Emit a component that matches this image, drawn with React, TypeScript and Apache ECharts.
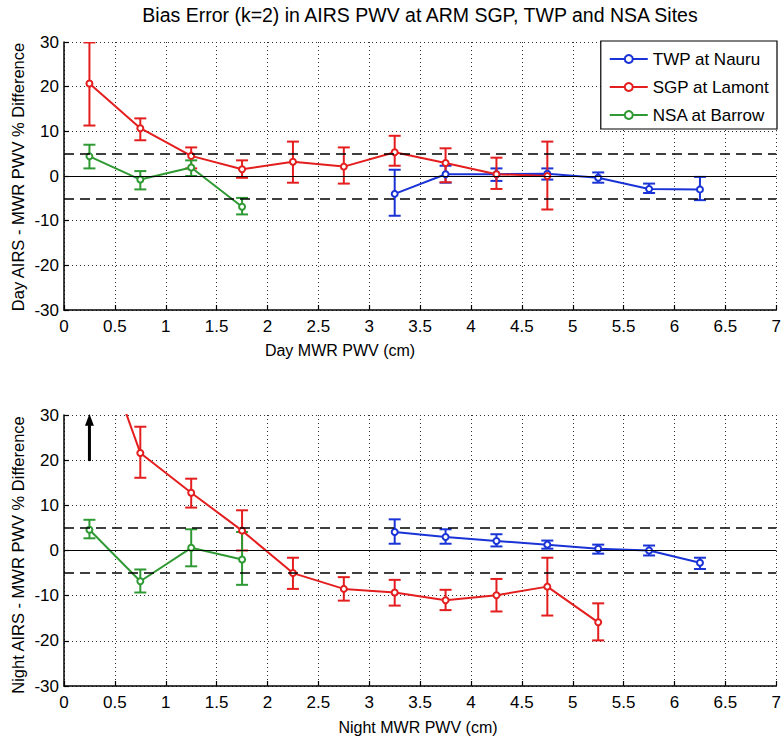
import React, { useEffect, useRef } from "react";
import * as echarts from "echarts";

const FONT = "'Liberation Sans', Arial, Helvetica, sans-serif";
const BLUE = "#1a33d6";
const RED = "#e41e1e";
const GREEN = "#2f9a33";

const title = "Bias Error (k=2) in AIRS PWV at ARM SGP, TWP and NSA Sites";
const seriesNames = ["TWP at Nauru", "SGP at Lamont", "NSA at Barrow"];
const xTickLabels = ["0", "0.5", "1", "1.5", "2", "2.5", "3", "3.5", "4", "4.5", "5", "5.5", "6", "6.5", "7"];

// Day panel
const dayTwpX = [3.25, 3.75, 4.25, 4.75, 5.25, 5.75, 6.25];
const dayTwpY = [-4.0, 0.4, 0.4, 0.5, -0.4, -2.9, -3.0];
const dayTwpLo = [-8.9, -1.5, -1.1, -0.8, -1.5, -3.8, -5.4];
const dayTwpHi = [1.4, 2.3, 1.7, 1.7, 0.8, -1.7, -0.2];

const daySgpX = [0.25, 0.75, 1.25, 1.75, 2.25, 2.75, 3.25, 3.75, 4.25, 4.75];
const daySgpY = [20.7, 10.7, 4.5, 1.5, 3.2, 2.1, 5.3, 2.9, 0.4, 0.0];
const daySgpLo = [11.3, 8.0, 1.7, -0.4, -1.5, -1.7, 2.3, -1.4, -2.9, -7.5];
const daySgpHi = [29.9, 12.9, 6.4, 3.5, 7.7, 6.4, 9.0, 6.2, 4.1, 7.7];

const dayNsaX = [0.25, 0.75, 1.25, 1.75];
const dayNsaY = [4.4, -0.8, 1.9, -6.9];
const dayNsaLo = [1.7, -3.0, 0.0, -8.6];
const dayNsaHi = [7.0, 1.1, 3.5, -4.9];

// Night panel
const nightTwpX = [3.25, 3.75, 4.25, 4.75, 5.25, 5.75, 6.25];
const nightTwpY = [4.1, 3.0, 2.1, 1.3, 0.4, 0.0, -2.7];
const nightTwpLo = [1.5, 1.5, 0.9, 0.4, -0.7, -1.1, -4.1];
const nightTwpHi = [6.9, 4.7, 3.6, 2.2, 1.3, 1.1, -1.6];

const nightSgpX = [0.25, 0.75, 1.25, 1.75, 2.25, 2.75, 3.25, 3.75, 4.25, 4.75, 5.25];
const nightSgpY = [53, 21.6, 12.8, 4.4, -5.0, -8.5, -9.3, -11.0, -9.9, -8.0, -15.9];
const nightSgpLo = [null, 16.1, 9.5, 0.0, -8.5, -11.1, -12.2, -13.2, -13.5, -14.4, -19.9];
const nightSgpHi = [null, 27.4, 15.9, 8.9, -1.6, -5.9, -6.5, -8.7, -6.3, -1.6, -11.7];

const nightNsaX = [0.25, 0.75, 1.25, 1.75];
const nightNsaY = [4.6, -6.8, 0.6, -2.0];
const nightNsaLo = [2.7, -9.3, -3.5, -7.6];
const nightNsaHi = [6.8, -4.2, 4.7, 4.1];

// arrow marking the off-scale SGP night point: [x, from, to]
const arrowData = [[0.25, 19.8, 30.3]];

function lineSeries(name: string, color: string, xs: number[], ys: number[], grid: number, extra: any = {}) {
  return {
    name,
    type: "line",
    xAxisIndex: grid,
    yAxisIndex: grid,
    data: xs.map((x, i) => [x, ys[i]]),
    symbol: "emptyCircle",
    symbolSize: 6,
    showAllSymbol: true,
    clip: true,
    lineStyle: { color, width: 2 },
    itemStyle: { color, borderWidth: 1.5 },
    z: 3,
    ...extra,
  };
}

function errSeries(name: string, color: string, xs: number[], lo: (number | null)[], hi: (number | null)[], grid: number) {
  const data: number[][] = [];
  xs.forEach((x, i) => {
    if (lo[i] != null && hi[i] != null) data.push([x, lo[i] as number, hi[i] as number]);
  });
  return {
    name,
    type: "custom",
    xAxisIndex: grid,
    yAxisIndex: grid,
    clip: true,
    z: 2,
    encode: { x: 0, y: [1, 2] },
    data,
    renderItem: (params: any, api: any) => {
      const x = api.value(0);
      const a = api.coord([x, api.value(1)]);
      const b = api.coord([x, api.value(2)]);
      const w = 6;
      const st = { stroke: color, lineWidth: 2 };
      return {
        type: "group",
        children: [
          { type: "line", shape: { x1: a[0], y1: a[1], x2: b[0], y2: b[1] }, style: st },
          { type: "line", shape: { x1: a[0] - w, y1: a[1], x2: a[0] + w, y2: a[1] }, style: st },
          { type: "line", shape: { x1: b[0] - w, y1: b[1], x2: b[0] + w, y2: b[1] }, style: st },
        ],
      };
    },
  };
}

const refLines = {
  silent: true,
  symbol: "none",
  label: { show: false },
  emphasis: { disabled: true },
  data: [
    { yAxis: 5, lineStyle: { color: "#000", width: 1.5, type: [10, 6] } },
    { yAxis: -5, lineStyle: { color: "#000", width: 1.5, type: [10, 6] } },
    { yAxis: 0, lineStyle: { color: "#000", width: 1.2, type: "solid" } },
  ],
};

export default function App() {
  const ref = useRef<HTMLDivElement>(null);
  useEffect(() => {
    if (!ref.current) return;
    const chart = echarts.init(ref.current, null, { renderer: "svg" });
    const axisCommonX = (i: number) => ({
      gridIndex: i,
      type: "value",
      min: 0,
      max: 7,
      interval: 0.5,
      axisLine: { show: true, onZero: false, lineStyle: { color: "#000", width: 1.5 } },
      axisTick: { show: true, inside: true, length: 5, lineStyle: { color: "#000", width: 1.2 } },
      axisLabel: {
        fontSize: 17,
        color: "#000",
        fontFamily: FONT,
        margin: 8,
        formatter: (v: number) => xTickLabels[Math.round(v * 2)] ?? String(v),
      },
      splitLine: { show: true, lineStyle: { type: [1, 3], color: "#333", width: 1 } },
    });
    const axisCommonY = (i: number) => ({
      gridIndex: i,
      type: "value",
      min: -30,
      max: 30,
      interval: 10,
      axisLine: { show: true, onZero: false, lineStyle: { color: "#000", width: 1.5 } },
      axisTick: { show: true, inside: true, length: 5, lineStyle: { color: "#000", width: 1.2 } },
      axisLabel: { fontSize: 17, color: "#000", fontFamily: FONT, margin: 5 },
      splitLine: { show: true, lineStyle: { type: [1, 3], color: "#333", width: 1 } },
    });

    const option: any = {
      animation: false,
      backgroundColor: "#fff",
      textStyle: { fontFamily: FONT },
      grid: [
        { left: 64, top: 42, width: 715, height: 268 },
        { left: 64, top: 415, width: 715, height: 271 },
      ],
      xAxis: [axisCommonX(0), axisCommonX(1)],
      yAxis: [axisCommonY(0), axisCommonY(1)],
      legend: {
        data: seriesNames,
        orient: "vertical",
        right: 7,
        top: 41,
        backgroundColor: "#fff",
        borderColor: "#000",
        borderWidth: 1.2,
        padding: [8, 8, 4, 8],
        itemWidth: 38,
        itemHeight: 10,
        itemGap: 8,
        selectedMode: false,
        textStyle: { fontSize: 17, color: "#000", fontFamily: FONT, lineHeight: 20 },
      },
      graphic: [
        { type: "text", x: 420, y: 15, style: { text: title, fill: "#000", font: `19.5px ${FONT}`, textAlign: "center", textVerticalAlign: "middle" } },
        { type: "text", x: 340, y: 350, style: { text: "Day MWR PWV (cm)", fill: "#000", font: `16px ${FONT}`, textAlign: "center", textVerticalAlign: "middle" } },
        { type: "text", x: 418, y: 727, style: { text: "Night MWR PWV (cm)", fill: "#000", font: `16px ${FONT}`, textAlign: "center", textVerticalAlign: "middle" } },
        { type: "text", x: 18, y: 177, rotation: Math.PI / 2, style: { text: "Day AIRS - MWR PWV % Difference", fill: "#000", font: `16.5px ${FONT}`, textAlign: "center", textVerticalAlign: "middle" } },
        { type: "text", x: 18, y: 555, rotation: Math.PI / 2, style: { text: "Night AIRS - MWR PWV % Difference", fill: "#000", font: `16.5px ${FONT}`, textAlign: "center", textVerticalAlign: "middle" } },
      ],
      series: [
        lineSeries(seriesNames[0], BLUE, dayTwpX, dayTwpY, 0, { markLine: refLines }),
        lineSeries(seriesNames[1], RED, daySgpX, daySgpY, 0),
        lineSeries(seriesNames[2], GREEN, dayNsaX, dayNsaY, 0),
        errSeries("twp-day-err", BLUE, dayTwpX, dayTwpLo, dayTwpHi, 0),
        errSeries("sgp-day-err", RED, daySgpX, daySgpLo, daySgpHi, 0),
        errSeries("nsa-day-err", GREEN, dayNsaX, dayNsaLo, dayNsaHi, 0),
        lineSeries(seriesNames[0], BLUE, nightTwpX, nightTwpY, 1, { markLine: refLines }),
        lineSeries(seriesNames[1], RED, nightSgpX, nightSgpY, 1),
        lineSeries(seriesNames[2], GREEN, nightNsaX, nightNsaY, 1),
        errSeries("twp-night-err", BLUE, nightTwpX, nightTwpLo, nightTwpHi, 1),
        errSeries("sgp-night-err", RED, nightSgpX, nightSgpLo, nightSgpHi, 1),
        errSeries("nsa-night-err", GREEN, nightNsaX, nightNsaLo, nightNsaHi, 1),
        {
          name: "offscale-arrow",
          type: "custom",
          xAxisIndex: 1,
          yAxisIndex: 1,
          clip: false,
          z: 5,
          encode: { x: 0, y: [1, 2] },
          data: arrowData,
          renderItem: (params: any, api: any) => {
            const x = api.value(0);
            const a = api.coord([x, api.value(1)]);
            const b = api.coord([x, api.value(2)]);
            const hw = 4.5;
            const hh = 12;
            return {
              type: "group",
              children: [
                { type: "line", shape: { x1: a[0], y1: a[1], x2: b[0], y2: b[1] + hh - 2 }, style: { stroke: "#000", lineWidth: 3 } },
                { type: "polygon", shape: { points: [[b[0], b[1]], [b[0] - hw, b[1] + hh], [b[0] + hw, b[1] + hh]] }, style: { fill: "#000" } },
              ],
            };
          },
        },
      ],
    };
    chart.setOption(option);
    return () => chart.dispose();
  }, []);
  return <div ref={ref} style={{ position: "fixed", left: 0, top: 0, width: 784, height: 741, background: "#fff" }} />;
}
